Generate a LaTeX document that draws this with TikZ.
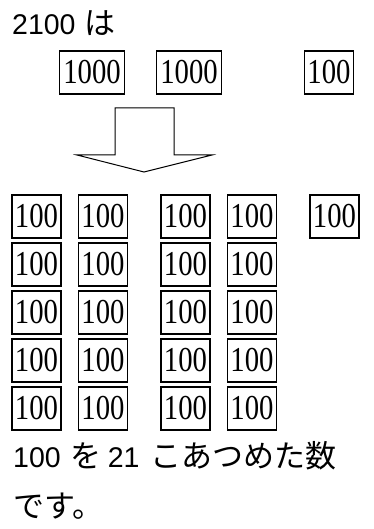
\documentclass[tikz,border=0pt]{standalone}
\usepackage{fontspec}
\setmainfont{Liberation Serif}
\newfontfamily\numfont[FakeStretch=0.82]{Liberation Serif}
\newfontfamily\digitfont{Liberation Sans}
\newfontfamily\jpfont{Noto Sans CJK JP}
\newcommand\jp[1]{{\jpfont\fontsize{31pt}{32pt}\selectfont #1}}
\usetikzlibrary{positioning}
\tikzset{
  coinBox/.style={
    rectangle,
    draw=black,
    line width=1.2pt,
    inner sep=0pt,
    minimum width=49pt,
    minimum height=43pt,
    font={\numfont\fontsize{35pt}{35pt}\selectfont}
  },
  bigBox/.style={
    coinBox,
    minimum width=65pt
  },
  captionText/.style={
    anchor=base west,
    inner sep=0pt,
    font={\digitfont\fontsize{28.5pt}{32pt}\selectfont}
  },
  blockArrow/.style={
    draw=black,
    line width=1pt,
    fill=white
  }
}

\begin{document}
\begin{tikzpicture}[x=1pt,y=-1pt]
  \useasboundingbox (0,0) rectangle (374,529);

  \node[captionText] (title) at (12,35) {2100\hspace{9pt}\jp{は}};

  \node[bigBox] (th1) at (92,72.5) {1000};
  \node[bigBox] (th2) at (189,72.5) {1000};
  \node[coinBox] (hu0) at (329,72.5) {100};

  % big arrow pointing down
  \draw[blockArrow] (115,108) -- (174,108) -- (174,155) -- (212,155)
    -- (144,172) -- (77,155) -- (115,155) -- cycle;

  \foreach \c/\x in {1/36.5,2/103,3/185.5,4/252}
    \foreach \r in {1,...,5}
      \node[coinBox] (h\r\c) at (\x,168.5+48*\r) {100};
  \node[coinBox] (h15) at (334.5,216.5) {100};

  \node[captionText] (sum) at (13,467)
    {100\hspace{10pt}\jp{を}\hspace{6pt}21\hspace{11pt}\jp{こあつめた数}};
  \node[captionText] (tail) at (13,517) {\jp{です。}};
\end{tikzpicture}
\end{document}
